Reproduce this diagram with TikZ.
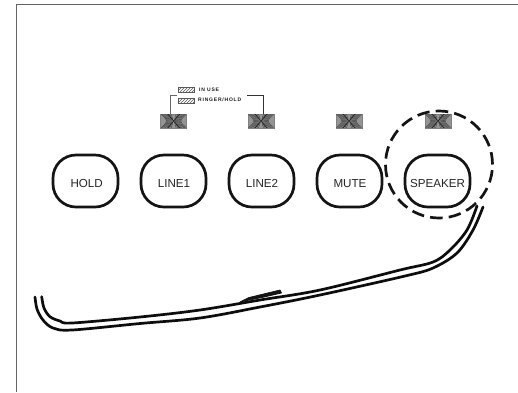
\documentclass[tikz,border=0pt]{standalone}
\usepackage{fontspec}
\setmainfont{Liberation Sans}
\newfontfamily\tinyspaced[LetterSpace=16]{Liberation Sans}
\usetikzlibrary{patterns}
\tikzset{
  px/.style={x=1pt,y=-1pt},
  btn/.style={draw=black!92,line width=2.7pt,rounded corners=23pt,minimum width=65pt,minimum height=52pt,inner sep=0pt},
  btntext/.style={font=\fontsize{11.6}{12}\selectfont,text=black!85,inner sep=0pt,anchor=base},
  ledbox/.style={fill=black!42,draw=black!50,line width=0.5pt,minimum width=26pt,minimum height=14pt,inner sep=0pt},
  legbox/.style={draw=black!65,line width=0.6pt,minimum width=16pt,minimum height=5pt,inner sep=0pt,pattern=north east lines,pattern color=black!65},
  leglabel/.style={font=\tinyspaced\bfseries\fontsize{5}{6}\selectfont,inner sep=0pt,anchor=west,text=black!90},
  tie/.style={draw=black!60,line width=1pt},
  strip/.style={line width=2.7pt,draw=black!95,line cap=round,line join=round},
  ring/.style={line width=2.7pt,draw=black!92,dash pattern=on 12.5pt off 6.2pt}
}
\newcommand{\ledmark}[1]{%
  \begin{scope}[shift={(#1.center)},x=1pt,y=1pt]
    \clip (-12.6,-6.6) rectangle (12.6,6.6);
    \foreach \a in {2.5,4,5.5,7,8.5,10,11.5,13}{
      \draw[black!70,line width=0.5pt] (-\a,-7) .. controls (-\a+0.55*\a+0.8,0) .. (-\a,7);
      \draw[black!70,line width=0.5pt] (\a,-7) .. controls (\a-0.55*\a-0.8,0) .. (\a,7);
    }
    \fill[white] (-1.2,0) -- (0,-1.4) -- (1.2,0) -- (0,1.4) -- cycle;
    \draw[black!85,line width=0.8pt] (-6,-7) -- (6,7) (-6,7) -- (6,-7);
  \end{scope}}
\begin{document}
\begin{tikzpicture}[px]
\useasboundingbox (0,0) rectangle (518,392);
\fill[white] (0,0) rectangle (518,392);
% frame
\draw[black!60,line width=1.3pt] (16.5,392) -- (16.5,4.6) -- (518,4.6);
% buttons
\node[btn] (hold) at (85.5,181) {};
\node[btn] (line1) at (173.5,181) {};
\node[btn] (line2) at (261.5,181) {};
\node[btn] (mute) at (349.5,181) {};
\node[btn] (speaker) at (437.5,181) {};
\node[btntext] (tx1) at (86.7,187.5) {HOLD};
\node[btntext] (tx2) at (174,187.5) {LINE1};
\node[btntext] (tx3) at (262,187.5) {LINE2};
\node[btntext] (tx4) at (350,187.5) {MUTE};
\node[btntext] (tx5) at (437.5,187.5) {SPEAKER};
% LEDs
\node[ledbox] (led1) at (173.7,121) {};
\node[ledbox] (led2) at (261,121) {};
\node[ledbox] (led3) at (349,121) {};
\node[ledbox] (led4) at (438,121) {};
\ledmark{led1}\ledmark{led2}\ledmark{led3}\ledmark{led4}
% legend
\node[legbox] (useb) at (186,89.5) {};
\node[legbox] (ringb) at (186,100.5) {};
\node[leglabel] (uset) at (199,89.5) {IN USE};
\node[leglabel] (ringt) at (198,99.8) {RINGER/HOLD};
\coordinate (tieL) at (177,95);
\coordinate (tieR) at (247,95);
\draw[tie] (led1.north -| 170,0) -- (170,95) -- (tieL);
\draw[tie,draw=black!80] (led2.north -| 263,0) -- (263,95) -- (tieR);
% dashed circle
\draw[ring] (439,164.5) circle[radius=53.5pt];
% strip
\draw[strip] plot[smooth,tension=0.55] coordinates {(41.7,296.7) (44,308) (50,316.7) (60,321) (72,323) (140,317) (200,310) (260,300) (320,290) (400,270) (433,262) (450,250) (467,230) (477,206)};
\draw[strip] plot[smooth,tension=0.55] coordinates {(35,297) (37,309) (43,320) (53,328) (72,330) (140,323.5) (200,318) (260,307) (320,295) (405,276) (433,268) (457,253) (473,230) (483,207)};
% wedge
\fill[black!92,draw=black!92,line width=0.7pt,line join=round] (240,302) -- (249,297.5) -- (280,290) -- (281.5,293) -- (262,297.5) -- cycle;
\end{tikzpicture}
\end{document}
